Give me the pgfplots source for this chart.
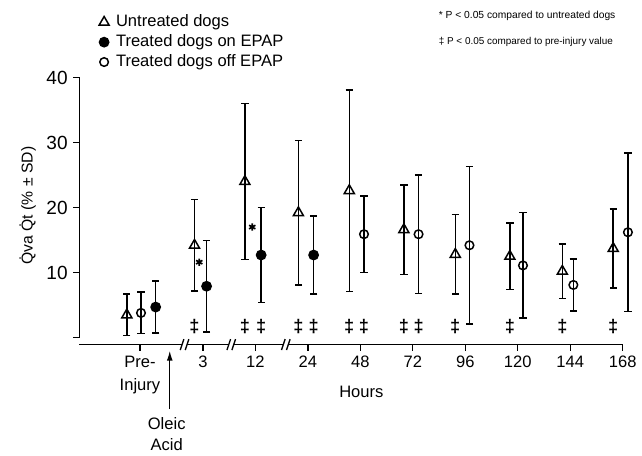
\documentclass[border=0pt]{standalone}
\usepackage{fontspec}
\setmainfont{Liberation Sans}
\usepackage{pgfplots}
\pgfplotsset{compat=1.18}
\usetikzlibrary{arrows.meta}

% axis break mark "//" on the x axis line
\newcommand{\brk}[1]{%
  \fill[white] ([shift={(-1.5pt,-1pt)}]axis cs:#1,-1.07) rectangle ++(3pt,2pt);
  \draw[line width=0.8pt] ([shift={(-2.6pt,-3.3pt)}]axis cs:#1,-1.07) -- ++(2.2pt,6.6pt);
  \draw[line width=0.8pt] ([shift={(0.4pt,-3.3pt)}]axis cs:#1,-1.07) -- ++(2.2pt,6.6pt);
}

\begin{document}
\begin{tikzpicture}
\begin{axis}[
  scale only axis,
  width=328.2pt, height=161.4pt,
  xmin=-1.153, xmax=9.2, ymin=-1.07, ymax=40,
  axis x line=bottom, axis y line=left,
  axis line style={-, line width=0.8pt},
  y axis line style={draw=none},
  xtick={0,1.2,2.2,3.2,4.2,5.2,6.2,7.2,8.2,9.2},
  xticklabels={Pre-\\Injury,3,12,24,48,72,96,120,144,168},
  xticklabel style={align=center, font=\fontsize{10}{13.5}\selectfont},
  ytick={10,20,30,40},
  yticklabel style={font=\fontsize{11.5}{12}\selectfont},
  tick align=outside,
  major tick length=3.6pt,
  tick style={line width=0.8pt, black},
  clip=false,
  /pgf/number format/assume math mode=true,
  legend cell align=left,
  legend image code/.code={%
    \path[draw=none, fill=none] (-0.7pt,-4pt) rectangle (9pt,4pt);
    \draw[#1,only marks] plot coordinates {(2.8pt,0pt)};},
  legend style={at={(rel axis cs:0.025,1.256)}, anchor=north west, draw=none, fill=none,
    font=\fontsize{10}{12}\selectfont, row sep=0.4pt,
    nodes={inner sep=1pt, text height=7.4pt, text depth=2.2pt}},
  error bars/y dir=both, error bars/y explicit,
  error bars/error bar style={line width=0.9pt, black},
  error bars/error mark options={rotate=90, line width=0.9pt, black, mark size=2.2pt},
]
% canvas
\path (rel axis cs:-0.14625,-0.41636) rectangle (rel axis cs:1.02742,1.28996);
\draw[line width=0.8pt] (axis cs:-1.153,40) -- (axis cs:-1.153,0) -- ++(-3.6pt,0pt);

% untreated dogs
\addplot[only marks, mark=triangle, mark size=3.5pt, line width=0.9pt,
  mark options={fill=white, black}]
  coordinates {
  (-0.25,3.5) +- (0,3.2)
  (1.04,14.2) +- (0,7.0)
  (2.00,24.0) +- (0,12.0)
  (3.02,19.2) +- (0,11.1)
  (3.99,22.6) +- (0,15.5)
  (5.03,16.6) +- (0,6.9)
  (6.01,12.8) +- (0,6.1)
  (7.05,12.5) +- (0,5.1)
  (8.05,10.2) +- (0,4.2)
  (9.02,13.7) +- (0,6.1)
  };
\addlegendentry{Untreated dogs}
% treated dogs on EPAP
\addplot[only marks, mark=*, mark size=2.8pt, line width=0.9pt,
  mark options={fill=black, black}]
  coordinates {
  (0.30,4.7) +- (0,4.0)
  (1.27,7.9) +- (0,7.0)
  (2.31,12.7) +- (0,7.3)
  (3.31,12.7) +- (0,6.0)
  };
\addlegendentry{Treated dogs on EPAP}
% treated dogs off EPAP
\addplot[only marks, mark=o, mark size=2.6pt, line width=0.9pt,
  mark options={fill=white, black}]
  coordinates {
  (0.02,3.8) +- (0,3.2)
  (4.27,15.9) +- (0,5.9)
  (5.31,15.9) +- (0,9.1)
  (6.28,14.2) +- (0,12.1)
  (7.30,11.1) +- (0,8.1)
  (8.26,8.1) +- (0,4.0)
  (9.30,16.2) +- (0,12.2)
  };
\addlegendentry{Treated dogs off EPAP}

% significance marks
\addplot[only marks, mark=asterisk, mark size=2.2pt, line width=1pt, black,
  forget plot, error bars/y dir=none]
  coordinates {(1.13,11.6) (2.14,17.0)};
\addplot[only marks, mark=text,
  text mark={\fontsize{11}{11}\selectfont\bfseries\textdaggerdbl},
  forget plot, error bars/y dir=none]
  coordinates {(1.04,1.7) (2.00,1.7) (2.31,1.7) (3.02,1.7) (3.31,1.7)
    (3.99,1.7) (4.27,1.7) (5.03,1.7) (5.31,1.7) (6.01,1.7) (7.05,1.7)
    (8.05,1.7) (9.02,1.7)};

% axis breaks
\brk{0.85}
\brk{1.74}
\brk{2.78}

% annotations
\draw[line width=0.8pt, -{Latex[length=6pt,width=3.5pt]}] (axis cs:0.568,-11.0) -- (axis cs:0.568,-2.0);
\node[anchor=north, align=center, inner sep=0pt, font=\fontsize{10}{12.6}\selectfont]
  at (axis cs:0.51,-12.2) {Oleic\\Acid};
\node[font=\fontsize{10}{12}\selectfont] at (axis cs:4.22,-8.4) {Hours};
\node[rotate=90, font=\fontsize{9.5}{11}\selectfont] at (axis cs:-2.14,20.3)
  {\.{Q}va \.{Q}t (\% \textpm\ SD)};
\node[anchor=west, inner sep=0pt, font=\fontsize{6.2}{7}\selectfont] at (axis cs:5.69,49.5)
  {* P < 0.05 compared to untreated dogs};
\node[anchor=west, inner sep=0pt, font=\fontsize{6}{7}\selectfont] at (axis cs:5.69,45.4)
  {\textdaggerdbl\ P < 0.05 compared to pre-injury value};
\end{axis}
\end{tikzpicture}
\end{document}
